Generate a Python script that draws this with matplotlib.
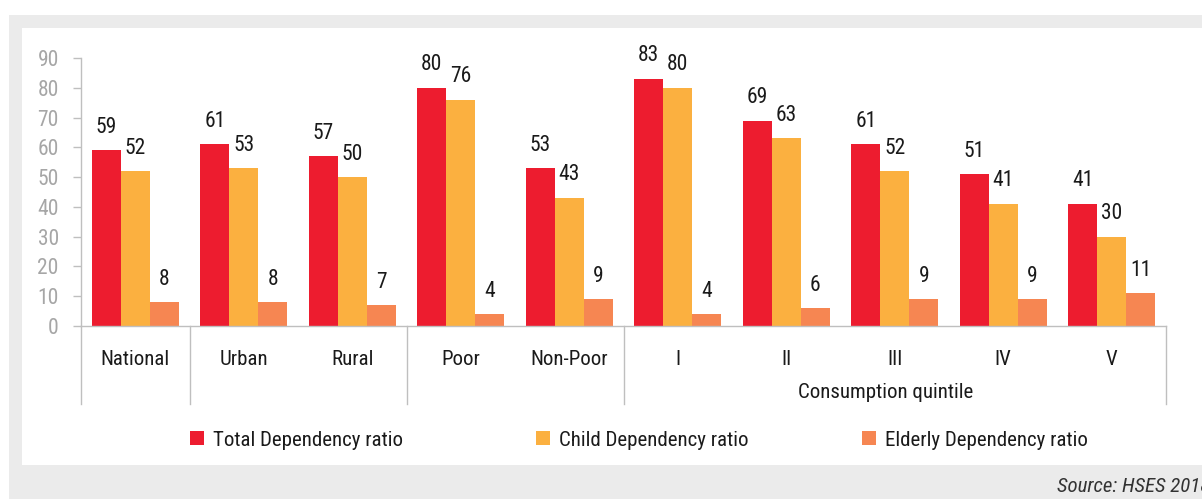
import matplotlib
matplotlib.use("Agg")
import matplotlib.pyplot as plt
from matplotlib import font_manager
from matplotlib.patches import Rectangle, Patch
from matplotlib.transforms import blended_transform_factory
import numpy as np

# ---- data -------------------------------------------------------------
categories = ["National", "Urban", "Rural", "Poor", "Non-Poor",
              "I", "II", "III", "IV", "V"]
total_ratio = [59, 61, 57, 80, 53, 83, 69, 61, 51, 41]
child_ratio = [52, 53, 50, 76, 43, 80, 63, 52, 41, 30]
elderly_ratio = [8, 8, 7, 4, 9, 4, 6, 9, 9, 11]
series_names = ["Total Dependency ratio", "Child Dependency ratio",
                "Elderly Dependency ratio"]
series_colors = ["#ED1C2F", "#FBB040", "#F68652"]
y_ticks = [0, 10, 20, 30, 40, 50, 60, 70, 80, 90]
group_bounds = [0, 1, 3, 5, 10]          # separators between category groups
quintile_title = "Consumption quintile"
source_note = "Source: HSES 2018"

# ---- font -------------------------------------------------------------
family = "DejaVu Sans"
for cand in ["Roboto Condensed", "Liberation Sans Narrow", "Open Sans Condensed",
             "DejaVu Sans Condensed", "Roboto"]:
    try:
        font_manager.findfont(font_manager.FontProperties(family=cand),
                              fallback_to_default=False)
        family = cand
        break
    except Exception:
        continue
plt.rcParams["font.family"] = [family, "DejaVu Sans"]

W, H = 1202, 499
fig = plt.figure(figsize=(W / 100, H / 100), dpi=100, facecolor="white")

# framed background panels
fig.patches.append(Rectangle((9 / W, 0), 1, 1 - 15 / H, transform=fig.transFigure,
                             facecolor="#EBEBEB", edgecolor="none", zorder=-10))
fig.patches.append(Rectangle((22 / W, 1 - 465 / H), 1, (465 - 28) / H,
                             transform=fig.transFigure, facecolor="white",
                             edgecolor="none", zorder=-9))

ax = fig.add_axes([81 / W, 1 - 326 / H, (1166 - 81) / W, (326 - 58) / H])
ax.set_facecolor("none")

x = np.arange(len(categories))
bw = 0.267
grey_line = "#BFBFBF"
for k, (vals, col) in enumerate(zip([total_ratio, child_ratio, elderly_ratio],
                                    series_colors)):
    bars = ax.bar(x + (k - 1) * bw, vals, width=bw, color=col,
                  edgecolor="none", zorder=2)
    ax.bar_label(bars, labels=[str(v) for v in vals], padding=9,
                 fontsize=15.5, color="#1A1A1A")

ax.set_xlim(-0.5, len(categories) - 0.5)
ax.set_ylim(0, 90)
ax.set_yticks(y_ticks)
ax.tick_params(axis="y", length=6, width=1, color=grey_line, pad=10,
               labelsize=15.5, labelcolor="#A6A6A6")
ax.set_xticks(x)
ax.set_xticklabels(categories, fontsize=15, color="#1A1A1A")
ax.tick_params(axis="x", length=0, pad=17)

for side in ["top", "right"]:
    ax.spines[side].set_visible(False)
for side in ["left", "bottom"]:
    ax.spines[side].set_color(grey_line)
    ax.spines[side].set_linewidth(1)

# group separator lines below the axis
trans = blended_transform_factory(ax.transData, ax.transAxes)
for b in group_bounds:
    ax.plot([b - 0.5, b - 0.5], [0, -0.291], transform=trans, color=grey_line,
            lw=1, clip_on=False, zorder=1)

ax.text(6.92, -0.25, quintile_title, transform=trans, ha="center", va="center",
        fontsize=15, color="#1A1A1A")

# legend entries spaced across the panel
legend_x = [190 / W, 536 / W, 862 / W]
for name, col, lx in zip(series_names, series_colors, legend_x):
    fig.legend(handles=[Patch(facecolor=col, edgecolor="none")], labels=[name],
               loc="center left", bbox_to_anchor=(lx, 1 - 440 / H),
               frameon=False, fontsize=15, handlelength=0.65, handleheight=0.65,
               handletextpad=0.45, borderpad=0, borderaxespad=0,
               labelcolor="#1A1A1A")

fig.text(1057 / W, 1 - 487 / H, source_note, ha="left", va="center",
         fontsize=15, style="italic", color="#333333")

fig.savefig("out.png", dpi=100, facecolor=fig.get_facecolor())
